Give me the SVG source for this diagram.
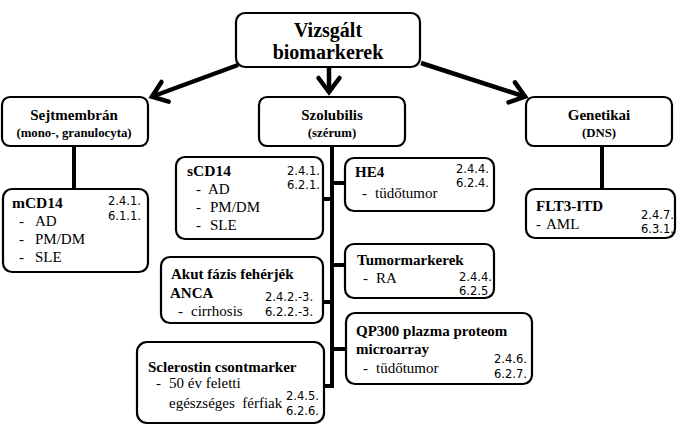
<svg xmlns="http://www.w3.org/2000/svg" width="677" height="425" viewBox="0 0 677 425">
<style>
.box{fill:#fff;stroke:#000;stroke-width:2.2}
.hb{font-family:"Liberation Serif",serif;font-weight:bold;fill:#000}
.tr{font-family:"Liberation Serif",serif;font-size:15px;fill:#000}
.num{font-family:"DejaVu Sans",sans-serif;font-size:11.5px;fill:#000}
.c{stroke:#000;stroke-width:4;fill:none}
.a{stroke:#000;stroke-width:4.5;fill:none}
</style>
<defs>
<marker id="ah" markerUnits="userSpaceOnUse" viewBox="-20 -14 24 28" markerWidth="24" markerHeight="28" refX="0" refY="0" orient="auto">
<path d="M-15,-10.5 L-1,0 L-15,10.5" fill="none" stroke="#000" stroke-width="4.5" stroke-linejoin="miter" stroke-linecap="round"/>
</marker>
</defs>
<rect width="677" height="425" fill="#fff"/>
<g id="connectors">
<path class="a" d="M238,65 L151,97" marker-end="url(#ah)"/>
<path class="a" d="M329,67 L329,93" marker-end="url(#ah)"/>
<path class="a" d="M421,63 L526,97" marker-end="url(#ah)"/>
<path class="c" d="M74,146 L74,189"/>
<path class="c" d="M602,146 L602,189"/>
<path class="c" d="M332,146 L332,386 L324,386"/>
<path class="c" d="M323,199 L332,199"/>
<path class="c" d="M332,183 L345,183"/>
<path class="c" d="M332,265 L345,265"/>
<path class="c" d="M323,302 L332,302"/>
<path class="c" d="M332,349 L346,349"/>
</g>
<g id="root">
<rect class="box" x="236" y="13" width="184" height="54" rx="9"/>
<text class="hb" font-size="20" x="328" y="37" text-anchor="middle">Vizsgált</text>
<text class="hb" font-size="20" x="328" y="59" text-anchor="middle">biomarkerek</text>
</g>
<g id="sejtmembran">
<rect class="box" x="2" y="97" width="146" height="49" rx="8"/>
<text class="hb" font-size="15" x="74" y="120" text-anchor="middle">Sejtmembrán</text>
<text class="hb" font-size="12.8" x="74" y="137" text-anchor="middle">(mono-, granulocyta)</text>
</g>
<g id="szolubilis">
<rect class="box" x="259" y="97" width="146" height="49" rx="8"/>
<text class="hb" font-size="15" x="332" y="120" text-anchor="middle">Szolubilis</text>
<text class="hb" font-size="12.8" x="332" y="137" text-anchor="middle">(szérum)</text>
</g>
<g id="genetikai">
<rect class="box" x="526" y="97" width="146" height="49" rx="8"/>
<text class="hb" font-size="15" x="599" y="120" text-anchor="middle">Genetikai</text>
<text class="hb" font-size="12.8" x="599" y="137" text-anchor="middle">(DNS)</text>
</g>
<g id="mcd14">
<rect class="box" x="3" y="189" width="145" height="83" rx="9"/>
<text class="hb" font-size="15.5" x="12" y="208">mCD14</text>
<text class="tr" x="19" y="226">-</text><text class="tr" x="35" y="226">AD</text>
<text class="tr" x="19" y="244">-</text><text class="tr" x="35" y="244">PM/DM</text>
<text class="tr" x="19" y="262">-</text><text class="tr" x="35" y="262">SLE</text>
<text class="num" x="108" y="205">2.4.1.</text>
<text class="num" x="108" y="220">6.1.1.</text>
</g>
<g id="scd14">
<rect class="box" x="176" y="157" width="147" height="82" rx="9"/>
<text class="hb" font-size="15.5" x="187" y="176">sCD14</text>
<text class="tr" x="196" y="194">-</text><text class="tr" x="208" y="194">AD</text>
<text class="tr" x="196" y="212">-</text><text class="tr" x="210" y="212">PM/DM</text>
<text class="tr" x="196" y="230">-</text><text class="tr" x="210" y="230">SLE</text>
<text class="num" x="287" y="175">2.4.1.</text>
<text class="num" x="287" y="189">6.2.1.</text>
</g>
<g id="he4">
<rect class="box" x="345" y="158" width="149" height="53" rx="9"/>
<text class="hb" font-size="15" x="355" y="177">HE4</text>
<text class="tr" x="362" y="198">-</text><text class="tr" x="375" y="198">tüdőtumor</text>
<text class="num" x="456" y="173">2.4.4.</text>
<text class="num" x="456" y="187">6.2.4.</text>
</g>
<g id="tumormarkerek">
<rect class="box" x="345" y="244" width="149" height="54" rx="9"/>
<text class="hb" font-size="15" x="357" y="265">Tumormarkerek</text>
<text class="tr" x="363" y="283">-</text><text class="tr" x="376" y="283">RA</text>
<text class="num" x="459" y="281">2.4.4.</text>
<text class="num" x="459" y="295">6.2.5</text>
</g>
<g id="akut">
<rect class="box" x="161" y="257" width="162" height="66" rx="9"/>
<text class="hb" font-size="15" x="171" y="279">Akut fázis fehérjék</text>
<text class="hb" font-size="15" x="170" y="298">ANCA</text>
<text class="tr" x="178" y="316">-</text><text class="tr" x="191" y="316">cirrhosis</text>
<text class="num" x="265" y="301">2.4.2.-3.</text>
<text class="num" x="265" y="316">6.2.2.-3.</text>
</g>
<g id="qp300">
<rect class="box" x="346" y="313" width="186" height="71" rx="9"/>
<text class="hb" font-size="15" x="356" y="336">QP300 plazma proteom</text>
<text class="hb" font-size="15" x="356" y="354">microarray</text>
<text class="tr" x="363" y="373">-</text><text class="tr" x="376" y="373">tüdőtumor</text>
<text class="num" x="494" y="363">2.4.6.</text>
<text class="num" x="494" y="378">6.2.7.</text>
</g>
<g id="sclerostin">
<rect class="box" x="137" y="342" width="187" height="81" rx="10"/>
<text class="hb" font-size="15" x="148" y="372">Sclerostin csontmarker</text>
<text class="tr" x="156" y="388">-</text><text class="tr" x="169" y="388">50 év feletti</text>
<text class="tr" x="169" y="408" xml:space="preserve">egészséges  férfiak</text>
<text class="num" x="286" y="400">2.4.5.</text>
<text class="num" x="286" y="415">6.2.6.</text>
</g>
<g id="flt3">
<rect class="box" x="526" y="189" width="149" height="49" rx="9"/>
<text class="hb" font-size="15" x="536" y="211">FLT3-ITD</text>
<text class="tr" x="536" y="229">-</text><text class="tr" x="546" y="229">AML</text>
<text class="num" x="641" y="219">2.4.7.</text>
<text class="num" x="641" y="233">6.3.1.</text>
</g>
</svg>
